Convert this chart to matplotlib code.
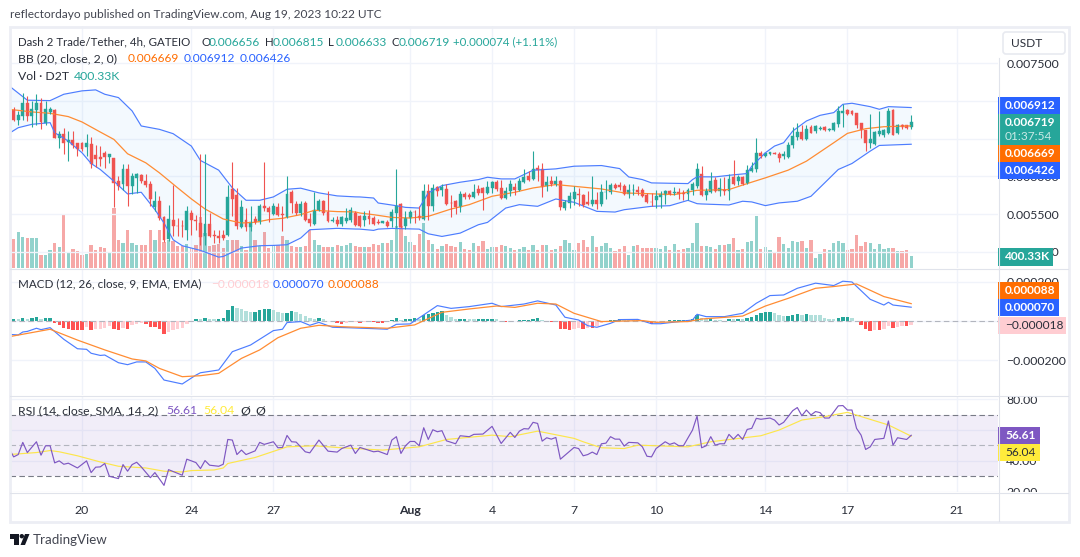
import numpy as np
import matplotlib
matplotlib.use('Agg')
import matplotlib.pyplot as plt
from matplotlib.patches import Rectangle, FancyBboxPatch, Polygon, Circle
from matplotlib.ticker import FuncFormatter
from matplotlib.transforms import Bbox

plt.rcParams['font.family'] = ['Lato', 'DejaVu Sans']

# candles, price in 1e-6 USDT
opens = [6880,6747,6800,6969,6800,6876,6969,6712,6854,6880,
         6508,6557,6455,6477,6437,6446,6384,6424,6282,6251,
         6304,6256,6238,5937,5906,6092,5879,5976,6016,5945,
         5906,5595,5671,5463,5170,5427,5347,5347,5294,5516,
         5418,5383,5206,5374,5228,5214,5223,5223,5835,5759,
         5330,5427,5330,5441,5392,5613,5587,5507,5596,5503,
         5463,5790,5635,5516,5649,5436,5374,5551,5671,5529,
         5405,5427,5374,5405,5427,5516,5471,5426,5471,5449,
         5391,5378,5400,5404,5515,5630,5338,5444,5533,5480,
         5435,5812,5612,5860,5825,5838,5652,5670,5595,5772,
         5759,5728,5834,5852,5781,5852,5931,5852,5710,5812,
         5865,5821,5931,6011,5967,6117,6100,5869,5945,5896,
         5945,5586,5648,5701,5772,5759,5666,5639,5692,5639,
         5790,5790,5892,5887,5869,5772,5816,5825,5825,5750,
         5666,5683,5728,5754,5807,5785,5794,5781,5763,5816,
         5878,6038,5759,5790,5959,5808,5826,5812,5990,5945,
         5990,5914,6078,6092,6313,6269,6291,6313,6300,6269,
         6260,6410,6521,6588,6499,6658,6597,6628,6650,6610,
         6614,6698,6836,6880,6862,6836,6703,6614,6437,6424,
         6557,6543,6570,6880,6579,6676,6676,6656]
highs = [6925,6867,7102,7066,7000,7088,7040,7000,6925,6898,
         6601,6645,6601,6601,6446,6455,6557,6526,6415,6402,
         6335,6291,6238,6003,6158,6158,6047,6047,6038,6038,
         5937,5804,5737,5471,5626,5892,5449,5427,5613,5560,
         5494,6291,6291,5516,5294,5294,5294,5892,6189,5848,
         5693,5582,5604,5480,5640,6189,5613,5649,5649,5613,
         6012,5826,5671,5671,5671,5516,5790,5702,5693,5813,
         5463,5480,5471,5582,5595,5538,5493,5537,5559,5471,
         5435,5409,5417,5568,6104,5648,5537,5559,5559,5603,
         5905,5905,5905,5878,5905,5905,5759,5692,5803,5790,
         5781,5905,5892,5861,5936,5936,5958,5958,5861,5958,
         5914,5980,6100,6069,6330,6157,6171,6002,6002,6002,
         5958,5683,5790,5878,5847,5772,5803,6011,5790,5905,
         5949,5914,5914,5923,5905,5905,5905,5878,5847,5781,
         5781,5816,5803,5825,5816,5860,5847,5825,5847,5923,
         6180,6136,5848,6056,5990,5981,5990,6038,6211,6021,
         6003,6145,6193,6503,6331,6304,6322,6326,6322,6331,
         6455,6659,6703,6676,6676,6685,6685,6667,6667,6645,
         6721,6933,6964,6898,6880,6845,6712,6614,6822,6601,
         6867,6623,6911,6889,6690,6690,6685,6815]
lows = [6734,6676,6747,6734,6659,6676,6632,6676,6823,6508,
        6371,6291,6202,6371,6269,6335,6269,6114,6123,6136,
        6114,6180,5596,5817,5826,5604,5768,5782,5914,5861,
        5604,5538,5427,5126,5139,5206,5206,5197,5161,5228,
        5294,5095,5095,5197,5117,5117,5161,5206,5471,5303,
        5316,5272,5272,5374,5374,5538,5392,5494,5471,5272,
        5449,5516,5494,5471,5405,5338,5361,5538,5494,5392,
        5392,5338,5347,5383,5392,5338,5329,5347,5373,5360,
        5369,5378,5324,5329,5316,5316,5302,5382,5382,5417,
        5426,5417,5537,5745,5745,5626,5457,5506,5524,5701,
        5701,5714,5759,5559,5772,5781,5803,5701,5701,5745,
        5754,5803,5914,5936,5949,5936,5723,5803,5869,5869,
        5559,5559,5581,5626,5603,5595,5617,5612,5568,5612,
        5701,5772,5834,5825,5759,5714,5759,5759,5728,5648,
        5603,5581,5581,5639,5759,5759,5701,5692,5692,5759,
        5847,5746,5693,5781,5790,5737,5759,5693,5892,5892,
        5892,5905,6065,6056,6247,6260,6286,6291,6189,6224,
        6242,6379,6481,6481,6481,6570,6579,6610,6605,6601,
        6601,6659,6659,6809,6809,6645,6512,6331,6379,6411,
        6535,6526,6557,6543,6557,6623,6623,6633]
closes = [6747,6809,6969,6800,6889,6969,6721,6889,6889,6508,
          6557,6437,6482,6415,6357,6366,6446,6158,6225,6233,
          6251,6291,5914,5879,6092,5879,6003,6030,5937,5892,
          5706,5680,5449,5152,5440,5347,5338,5338,5538,5418,
          5409,5197,5374,5214,5214,5179,5179,5728,5706,5338,
          5595,5325,5392,5392,5613,5578,5529,5613,5494,5485,
          5773,5649,5516,5640,5427,5383,5560,5671,5516,5405,
          5427,5374,5458,5449,5551,5361,5338,5471,5435,5373,
          5378,5409,5338,5533,5603,5329,5449,5533,5524,5444,
          5812,5603,5847,5803,5860,5639,5643,5595,5772,5723,
          5728,5799,5781,5781,5860,5931,5834,5710,5807,5905,
          5825,5945,5993,5958,6100,6082,5860,5931,5905,5940,
          5590,5666,5737,5790,5754,5626,5639,5692,5635,5799,
          5799,5887,5843,5860,5772,5825,5825,5799,5737,5657,
          5657,5737,5772,5812,5767,5799,5763,5767,5816,5905,
          6100,5759,5812,5945,5804,5843,5812,5972,5905,5990,
          5905,6083,6105,6304,6269,6304,6317,6300,6247,6291,
          6415,6535,6588,6499,6632,6579,6667,6645,6614,6623,
          6703,6867,6867,6822,6822,6676,6614,6446,6490,6588,
          6597,6610,6867,6548,6676,6658,6645,6719]

# volume, thousands of D2T
volumes = [950,1166,1015,972,983,983,432,432,572,810,
           691,1760,529,626,540,432,443,756,572,680,
           648,518,1955,918,821,1242,810,756,756,756,
           1242,918,1242,842,896,886,724,702,778,648,
           756,1652,1134,702,756,788,648,896,896,918,
           702,594,1350,918,724,1166,648,756,756,1048,
           918,724,680,680,702,1242,918,756,680,680,
           680,756,702,756,810,724,680,691,670,788,
           756,821,799,918,1350,1350,1048,853,756,1112,
           1458,918,788,616,702,788,724,691,853,616,
           594,821,702,886,626,691,691,756,724,659,
           594,626,691,594,756,594,756,756,594,626,
           724,918,799,594,799,918,691,1048,691,724,
           821,659,562,626,724,432,724,756,659,659,
           659,659,626,724,594,788,594,616,659,821,
           1469,702,702,680,626,756,756,788,983,594,
           626,832,864,1696,616,691,594,529,1015,788,
           659,886,832,864,637,918,335,464,626,594,
           821,886,821,594,626,1080,724,853,821,626,
           788,626,637,659,562,562,594,400]

# bollinger bands: candle index, value in 1e-6
bb_upper_idx = [-1,3,8,11,15,18,20,23,26,28,32,35,39,41,45,48,51,54,57,60,63,67,71,75,
                76,79,80,84,86,89,91,94,98,102,104,107,110,114,119,123,129,133,135,138,140,148,149,150,
                154,158,161,162,165,167,169,171,174,177,180,182,184,188,190,192,197]
bb_upper = [7199,7009,7004,7088,7133,7146,7088,7044,6867,6668,6623,6566,6402,6211,6083,5848,5684,5684,5728,5830,5844,5782,5742,5729,
            5728,5714,5648,5612,5590,5581,5781,5878,5923,5958,5989,5967,5967,6082,6100,6135,6144,6104,5993,5958,5914,5905,5958,5995,
            5994,6021,6038,6136,6313,6402,6446,6601,6734,6809,6845,6955,6969,6924,6889,6924,6912]
bb_mid_idx = [-1,4,8,12,15,19,22,25,29,32,36,39,42,46,50,53,56,59,63,66,71,75,
              76,79,83,87,91,96,100,105,110,114,119,123,129,134,139,145,150,
              151,157,161,165,170,174,180,183,187,191,197]
bb_mid = [6889,6854,6836,6792,6721,6588,6490,6300,6180,6047,5848,5702,5569,5436,5383,5392,5427,5445,5494,5551,5534,5529,
          5515,5493,5457,5449,5471,5568,5626,5737,5790,5847,5892,5869,5834,5781,5772,5759,5816,
          5817,5826,5905,5981,6083,6202,6446,6570,6632,6658,6669]
bb_lower_idx = [-1,1,4,8,9,12,15,17,19,22,25,28,31,33,35,37,41,45,46,50,54,57,60,63,65,71,75,
                76,79,80,83,89,91,94,98,102,104,108,111,115,119,123,128,132,134,140,144,148,150,
                151,157,160,162,165,168,172,175,178,181,184,188,190,197]
bb_lower = [6570,6645,6690,6712,6579,6468,6313,6171,6092,5937,5768,5790,5560,5383,5161,5082,5020,4931,4940,5051,5082,5086,5095,5184,5294,5312,5303,
            5302,5285,5302,5311,5302,5240,5205,5249,5360,5391,5581,5626,5604,5701,5657,5537,5528,5559,5604,5612,5683,5639,
            5635,5622,5671,5662,5613,5649,5671,5737,5914,6092,6171,6335,6410,6426]

# macd: candle index, value in 1e-6
macd_idx = [-1,1,2,3,5,6,8,11,14,16,17,19,20,23,25,27,29,31,33,37,40,41,45,48,52,57,59,60,63,65,67,70,73,79,82,84,87,90,93,96,100,105,107,112,115,
            119,121,124,126,128,131,133,137,140,142,146,149,150,152,156,160,163,166,169,172,176,180,182,184,188,191,192,193,197]
macd_vals = [-68,-71,-56,-53,-37,-44,-34,-93,-141,-144,-164,-175,-173,-212,-222,-208,-208,-241,-300,-320,-275,-263,-249,-156,-122,-49,-42,-8,-3,-22,-7,-32,-34,-39,-42,-17,-15,31,78,64,73,90,73,86,102,
             81,19,5,-24,-32,-12,7,8,-14,-14,-3,5,34,22,22,39,90,129,132,166,192,180,202,198,110,81,95,81,70]
signal_idx = [-1,8,14,20,26,29,32,37,41,45,50,54,58,63,67,72,82,88,94,100,106,110,115,
              119,123,129,138,141,148,151,160,165,170,176,180,185,191,197]
signal_vals = [-80,-42,-97,-147,-193,-203,-241,-283,-278,-266,-190,-147,-85,-37,-22,-29,-37,-20,44,61,76,69,90,
               86,39,-3,2,-7,-3,10,25,76,115,166,175,188,124,88]
macd_hist = [10,8,15,10,15,19,12,15,15,-12,-22,-34,-41,-44,-46,-46,-29,-46,-42,
             -39,-36,-24,-41,-44,-37,-41,-20,-15,-10,
             -14,-29,-31,-41,-64,-58,-47,-41,-34,-17,
             -5,12,8,17,12,8,10,17,56,75,
             64,59,51,46,47,56,59,59,54,46,
             41,42,49,46,37,27,14,12,15,12,
             2,-7,-12,-14,-8,-7,-5,-10,-5,-5,
             -7,-8,-8,-7,5,14,7,8,12,15,
             12,31,37,42,46,49,31,19,10,12,
             12,10,8,8,8,8,12,8,0,-5,
             -2,-2,5,7,7,12,17,
             3,-2,-3,-7,-41,-42,-47,-42,-37,-41,
             -34,-34,-25,-12,2,3,3,10,8,7,
             5,3,-2,-5,-14,-5,-2,-2,3,3,
             3,3,5,8,31,17,12,15,7,3,
             2,12,10,12,10,15,20,32,41,46,
             47,39,31,25,27,32,34,31,37,32,
             31,29,17,12,10,15,19,19,14,-5,
             -22,-41,-51,-46,-46,-41,-25,-34,-29,-25,
             -27,-18]

# rsi: candle index, value
rsi_idx = [-1,0,1,2,3,5,6,7,8,9,10,11,12,14,16,17,18,19,20,21,23,24,25,26,27,28,30,31,33,34,37,38,40,41,42,43,45,46,47,48,49,50,51,53,54,55,57,58,59,60,61,62,64,65,67,69,71,72,74,75,76,79,80,82,83,84,85,86,87,88,89,90,91,92,93,94,95,97,98,100,101,103,105,107,109,110,111,112,113,114,115,
           116,117,118,119,120,123,124,125,126,127,128,129,130,131,132,133,134,135,137,138,139,140,141,143,144,145,146,147,149,150,151,152,153,154,155,156,157,158,159,160,161,162,163,164,166,167,168,169,171,172,173,174,175,176,177,178,179,181,182,183,184,185,186,187,188,189,191,192,193,194,196,197]
rsi_vals = [48.0,42.6,44.1,52.0,45.4,52.4,43.7,49.8,49.8,38.7,40.0,37.8,38.5,35.4,40.0,32.4,35.9,36.1,38.3,30.0,28.5,37.6,33.3,37.6,39.1,36.1,29.1,32.4,24.1,34.3,30.7,41.1,38.9,35.0,40.2,37.2,36.5,37.8,53.9,53.5,44.1,47.0,44.1,46.5,52.0,50.7,52.4,48.5,48.7,56.5,52.4,52.2,45.9,45.2,53.5,46.3,45.7,48.0,50.2,44.8,48.7,45.9,46.3,44.1,53.5,55.7,44.8,49.8,52.6,52.6,49.8,61.5,53.9,60.2,58.9,59.6,53.0,51.1,56.3,55.7,57.2,57.4,62.4,51.3,58.5,55.2,59.3,60.9,60.7,65.0,64.3,
            52.8,55.0,54.1,55.2,41.1,48.7,48.0,43.3,44.1,45.7,44.1,51.1,51.5,55.7,54.1,54.1,49.6,52.0,51.7,49.1,43.0,42.6,48.0,52.4,50.7,51.7,49.8,49.8,60.0,69.1,48.5,49.8,55.7,50.2,51.1,51.1,57.2,54.1,57.2,53.9,60.4,61.1,67.6,67.0,67.8,66.5,63.3,65.0,72.6,74.6,69.3,73.0,69.8,72.0,71.3,67.8,67.8,75.7,75.9,73.0,73.0,61.1,56.7,47.4,49.1,53.9,54.6,65.9,50.2,55.0,53.9,56.61]
rsi_ma_idx = [-1,5,8,10,14,19,23,29,33,37,39,44,46,47,53,60,66,72,81,89,95,105,109,115,
              123,125,129,134,137,148,153,164,168,173,178,183,192,197]
rsi_ma_vals = [44.1,45.4,46.7,45.9,43.3,39.3,36.5,35.4,33.3,32.8,33.7,34.1,35.4,38.3,42.2,49.1,49.8,48.5,47.0,49.1,53.9,56.7,55.7,59.3,
               54.6,52.4,48.5,48.0,50.2,49.1,52.4,56.3,60.0,66.5,68.7,71.5,63.3,56.04]

# time axis: candle index of each day label
date_idx = [15, 39, 57, 87, 105, 123, 141, 165, 183, 207]
date_labels = ['20', '24', '27', 'Aug', '4', '7', '10', '14', '17', '21']

price_ticks = [7500, 7000, 6500, 6000, 5500, 5000]
macd_ticks = [200, 0, -200]
rsi_ticks = [80, 60, 40, 20]

W, H = 1080, 557
GREEN = '#26a69a'
RED = '#ef5350'
BLUE = '#2962ff'
ORANGE = '#ff6d00'
LINE_BLUE = '#4d7dff'
LINE_ORANGE = '#ff8c33'
GRID = '#f0f3fa'
TEXT = '#2a2e39'
EDGE = '#e0e3eb'
FS = 8.8


def pane(y0, y1, ylim, **kw):
    ax = fig.add_axes([10 / W, 1 - y1 / H, 988 / W, (y1 - y0) / H], **kw)
    ax.set_xlim(-0.805, 216.05)
    ax.set_ylim(*ylim)
    ax.patch.set_alpha(0)
    for s in ax.spines.values():
        s.set_visible(False)
    ax.set_xticks(date_idx)
    ax.set_xticklabels([])
    ax.tick_params(length=0)
    return ax


def right_ticks(ax, ticks, fmt, y0, y1):
    ax.yaxis.tick_right()
    ax.set_yticks(ticks)
    ax.yaxis.set_major_formatter(FuncFormatter(fmt))
    ax.tick_params(axis='y', length=0, pad=6, labelsize=FS, labelcolor=TEXT)
    ax.grid(True, color=GRID, lw=1)
    ax.set_axisbelow(True)
    # labels are cut off at the pane edge like on the site
    box = Bbox([[990, H - y1], [W, H - y0]])
    for lab in ax.get_yticklabels():
        lab.set_clip_on(True)
        lab.set_clip_box(box)


def price_label(v, p):
    # 0.007000 and 0.006500 sit fully under the last-value tags
    if abs(v - 0.007) < 1e-9 or abs(v - 0.0065) < 1e-9:
        return ''
    return '%.6f' % v


def macd_label(v, p):
    if v == 0:
        return ''
    return ('%.6f' % (v * 1e-6)).replace('-', '\u2212')


fig = plt.figure(figsize=(W / 100, H / 100), dpi=100)
fig.patch.set_facecolor('white')

idx = np.arange(len(closes))
o, h, l, c = [np.array(a) * 1e-6 for a in (opens, highs, lows, closes)]
up = c >= o
cols = np.where(up, GREEN, RED)

# volume sits behind the candles in its own scale
ax_vol = pane(26, 268, (0, 7841))
ax_vol.set_yticks([])
ax_vol.grid(False)
ax_vol.bar(idx, volumes, width=0.72, color=list(cols), alpha=0.5, lw=0)

ax = pane(26, 268, (0.004787, 0.007992))
right_ticks(ax, [t * 1e-6 for t in price_ticks], price_label, 26, 268)
ax.fill(np.r_[bb_upper_idx, bb_lower_idx[::-1]],
        np.r_[bb_upper, bb_lower[::-1]] * np.array(1e-6),
        color='#2196f3', alpha=0.05, lw=0)
ax.plot(bb_upper_idx, np.array(bb_upper) * 1e-6, color=LINE_BLUE, lw=0.85)
ax.plot(bb_lower_idx, np.array(bb_lower) * 1e-6, color=LINE_BLUE, lw=0.85)
ax.plot(bb_mid_idx, np.array(bb_mid) * 1e-6, color=LINE_ORANGE, lw=0.9)
ax.vlines(idx, l, h, colors=list(cols), lw=0.8)
ax.bar(idx, np.abs(c - o), bottom=np.minimum(o, c), width=0.64,
       color=list(cols), edgecolor=list(cols), lw=0.3)

# macd
ax_m = pane(269, 395, (-376, 264))
right_ticks(ax_m, macd_ticks, macd_label, 269, 395)
hist = np.array(macd_hist)
prev = np.r_[hist[0], hist[:-1]]
hist_cols = np.where(hist >= 0,
                     np.where(hist >= prev, GREEN, '#b2dfdb'),
                     np.where(hist <= prev, '#ff5252', '#ffcdd2'))
ax_m.axhline(0, color='#b2b5be', lw=0.8, ls=(0, (5, 3)))
ax_m.bar(idx, hist, width=0.75, color=list(hist_cols), lw=0)
ax_m.plot(macd_idx, macd_vals, color=LINE_BLUE, lw=0.85)
ax_m.plot(signal_idx, signal_vals, color=LINE_ORANGE, lw=0.9)

# rsi
ax_r = pane(396, 492, (19.8, 82.1))
right_ticks(ax_r, rsi_ticks, lambda v, p: '%.2f' % v, 396, 492)
ax_r.axhspan(30, 70, color='#7e57c2', alpha=0.1, lw=0)
ax_r.axhline(70, color='#787b86', lw=0.8, ls=(0, (5, 3)))
ax_r.axhline(30, color='#787b86', lw=0.8, ls=(0, (5, 3)))
ax_r.axhline(50, color='#b2b5be', lw=0.8, ls=(0, (5, 3)))
ax_r.plot(rsi_ma_idx, rsi_ma_vals, color='#fde64b', lw=0.85)
ax_r.plot(rsi_idx, rsi_vals, color='#7e57c2', lw=0.85)
ax_r.set_xticklabels(date_labels)
ax_r.tick_params(axis='x', pad=9.5, labelsize=FS, labelcolor=TEXT)
ax_r.get_xticklabels()[3].set_fontweight('bold')

# overlay in pixel coordinates for the chrome around the chart
ov = fig.add_axes([0, 0, 1, 1], zorder=20)
ov.set_xlim(0, W)
ov.set_ylim(H, 0)
ov.axis('off')


def txt(x, y, s, color=TEXT, size=FS, **kw):
    ov.text(x, y, s, color=color, fontsize=size, va='center', **kw)


def tag(y0, y1, x1, color, label, tcolor='white', weight='normal'):
    ov.add_patch(Rectangle((998, y0), x1 - 998, y1 - y0, fc=color, ec='none'))
    txt(1005, (y0 + y1) / 2, label, color=tcolor, fontweight=weight, size=8.6)


ov.add_patch(Rectangle((9.5, 26.5), 1059.5, 495, fill=False, ec='#eceef4', lw=2))
ov.plot([10, 998], [268.5, 268.5], color=EDGE, lw=0.8)
ov.plot([10, 1068], [395.5, 395.5], color=EDGE, lw=0.8)
ov.plot([10, 1068], [492.5, 492.5], color=EDGE, lw=0.8)
ov.plot([998, 1068], [268.5, 268.5], color=EDGE, lw=0.8)
ov.plot([998.5, 998.5], [58, 521], color=EDGE, lw=0.8)
ov.add_patch(FancyBboxPatch((1003, 32), 62, 22, boxstyle='round,pad=0,rounding_size=3',
                            fc='white', ec='#e8eaf0', lw=1.2))
txt(1011, 43.5, 'USDT', color=TEXT, size=8.6)

tag(97, 114, 1060, BLUE, '0.006912', weight='bold')
tag(114, 145, 1060, GREEN, '')
txt(1005, 122, '0.006719', color='white', fontweight='bold', size=8.6)
txt(1005, 136, '01:37:54', color='#c8e9e5', size=8.6)
tag(145, 162, 1060, ORANGE, '0.006669', weight='bold')
tag(162, 178.5, 1060, BLUE, '0.006426', weight='bold')
tag(248, 266, 1053, GREEN, '400.33K', weight='bold')
tag(282, 299, 1059, ORANGE, '0.000088', weight='bold')
tag(299, 316, 1059, BLUE, '0.000070', weight='bold')
tag(317, 333.5, 1066, '#ffcdd2', '\u22120.000018', tcolor=TEXT)
tag(427, 444, 1040, '#7e57c2', '56.61', weight='bold')
tag(444, 461, 1040, '#ffeb3b', '56.04', tcolor=TEXT)

txt(10, 14, 'reflectordayo published on TradingView.com, Aug 19, 2023 10:22 UTC', color='#434651', size=8.6)
txt(18, 42, 'Dash 2 Trade/Tether, 4h, GATEIO', color=TEXT, size=8.25)
for lx, vx, letter, val in [(201, 209, 'O', '0.006656'), (265, 273, 'H', '0.006815'),
                            (328, 336, 'L', '0.006633'), (391, 399, 'C', '0.006719')]:
    txt(lx, 42, letter, color=TEXT, size=8.25)
    txt(vx, 42, val, color=GREEN, size=8.6)
txt(453, 42, '+0.000074 (+1.11%)', color=GREEN, size=8.3)
txt(18, 59, 'BB (20, close, 2, 0)', color=TEXT)
txt(128, 59, '0.006669', color=ORANGE, size=8.6)
txt(184, 59, '0.006912', color=BLUE, size=8.6)
txt(240, 59, '0.006426', color=BLUE, size=8.6)
txt(18, 76, 'Vol \u00b7 D2T', color=TEXT)
txt(74, 76, '400.33K', color=GREEN)
txt(18, 284, 'MACD (12, 26, close, 9, EMA, EMA)', color=TEXT, size=8.4)
txt(211, 284, '\u22120.000018', color='#ffcdd2', size=8.6)
txt(273, 284, '0.000070', color=BLUE, size=8.6)
txt(328, 284, '0.000088', color=ORANGE, size=8.6)
txt(18, 411, 'RSI (14, close, SMA, 14, 2)', color=TEXT)
txt(166, 411, '56.61', color='#7e57c2')
txt(203, 411, '56.04', color='#ffeb3b')
txt(240, 411, '\u00d8', color=TEXT)
txt(255, 411, '\u00d8', color=TEXT)

# logo
ov.add_patch(Polygon([(10, 534), (19, 534), (19, 545), (14, 545), (14, 538.5), (10, 538.5)], fc='#131722', ec='none'))
ov.add_patch(Circle((21.8, 536.2), 2.2, fc='#131722', ec='none'))
ov.add_patch(Polygon([(25, 534), (29.5, 534), (25, 545), (20.5, 545)], fc='#131722', ec='none'))
txt(33, 539.5, 'TradingView', color='#434651', size=9.6)

fig.savefig('out.png', dpi=100)
